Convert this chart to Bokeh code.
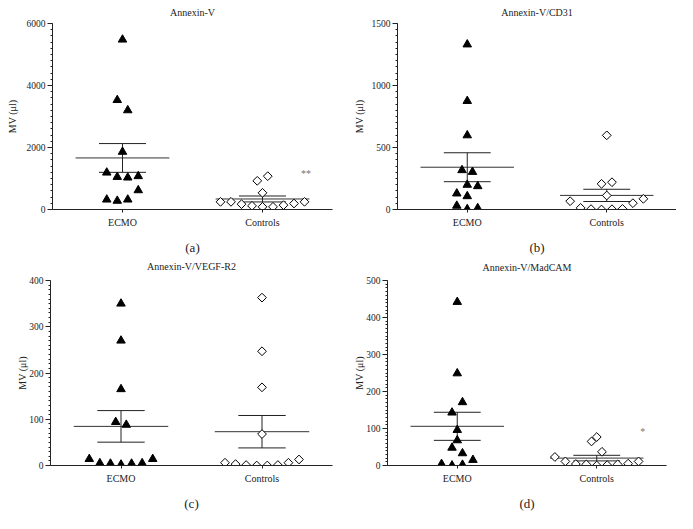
import numpy as np
from bokeh.plotting import figure
from bokeh.models import Range1d, FixedTicker, Label, LinearAxis
from bokeh.layouts import column, row
from bokeh.embed import file_html
from bokeh.resources import INLINE

FONT = "Liberation Serif"

groups = ["ECMO", "Controls"]
titles = ["Annexin-V", "Annexin-V/CD31", "Annexin-V/VEGF-R2", "Annexin-V/MadCAM"]
tags = ["(a)", "(b)", "(c)", "(d)"]
y_label = "MV (μl)"
y_max = [6000, 1500, 400, 500]
y_step = [2000, 500, 100, 100]
y_minor = [200, 50, 10, 10]

# values (MV per µl)
a_ecmo = [5480, 3530, 3200, 1860, 1190, 1050, 1030, 1075, 620, 320, 280, 320]
a_ctrl = [1075, 925, 538, 247, 247, 172, 118, 86, 86, 140, 194, 247]
b_ecmo = [1331, 875, 598, 317, 303, 199, 188, 129, 107, 30, 3, 11]
b_ctrl = [598, 207, 220, 113, 67, 51, 86, 13, 3, 0, 2, 5]
c_ecmo = [350, 270, 165, 94, 88, 14, 5, 4, 2, 4, 5, 14]
c_ctrl = [363, 247, 169, 68, 6, 3, 1, 0, 0, 1, 6, 13]
d_ecmo = [442, 249, 171, 143, 96, 68, 48, 33, 15, 4, 0, 2]
d_ctrl = [77, 65, 37, 23, 11, 4, 3, 0, 1, 3, 5, 11]

# scatter arrangement (side-by-side slots) as in the picture
a_ecmo_slot = [0, -1, 1, 0, -3, -1, 1, 3, 3, -3, -1, 1]
a_ctrl_slot = [1, -1, 0, -8, -6, -4, -2, 0, 2, 4, 6, 8]
b_ecmo_slot = [0, 0, 0, -1, 1, 0, 2, -2, 0, -2, 0, 2]
b_ctrl_slot = [0, -1, 1, 0, -7, 5, 7, -5, -3, -1, 1, 3]
c_ecmo_slot = [0, 0, 0, -1, 1, -6, -4, -2, 0, 2, 4, 6]
c_ctrl_slot = [0, 0, 0, 0, -7, -5, -3, -1, 1, 3, 5, 7]
d_ecmo_slot = [0, 0, 1, -1, 0, 0, -1, 1, 3, -3, -1, 1]
d_ctrl_slot = [0, -1, 1, -8, -6, -4, -2, 0, 2, 4, 6, 8]

significance = ["**", "", "", "*"]

SLOT = 0.0375
CENTERS = [0.5, 1.5]
INK = "#222222"


def make_panel(i, ecmo, ecmo_slot, ctrl, ctrl_slot, h, bl, br, bt, bb,
               title_standoff, ylab_standoff, star_pos=None):
    p = figure(width=338, height=h, output_backend="svg", toolbar_location=None,
               x_range=Range1d(0, 2), y_range=Range1d(0, y_max[i]),
               min_border_left=bl, min_border_right=br, min_border_top=bt,
               min_border_bottom=bb, title=None)
    p.outline_line_color = None
    p.grid.visible = False
    p.background_fill_color = "white"
    p.border_fill_color = "white"

    bx = p.below[0]
    ly = p.left[0]

    # y axis
    yt = [float(v) for v in np.arange(0, y_max[i] + 1, y_step[i])]
    ym = [float(v) for v in np.arange(0, y_max[i] + 1, y_minor[i])]
    ly.ticker = FixedTicker(ticks=yt, minor_ticks=ym)
    ly.major_tick_out = 5
    ly.major_tick_in = 0
    ly.minor_tick_out = 2
    ly.minor_tick_in = 0
    ly.minor_tick_line_width = 1
    ly.major_label_standoff = 2
    ly.axis_label = y_label
    ly.axis_label_text_font = FONT
    ly.axis_label_text_font_size = "10px"
    ly.axis_label_text_font_style = "normal"
    ly.axis_label_standoff = ylab_standoff
    ly.major_label_text_font_size = "9.5px"

    # x axis (groups)
    bx.ticker = FixedTicker(ticks=CENTERS, minor_ticks=[])
    bx.major_label_overrides = {CENTERS[0]: groups[0], CENTERS[1]: groups[1]}
    bx.major_tick_out = 3
    bx.major_tick_in = 0
    bx.minor_tick_out = 0
    bx.major_label_standoff = 4
    bx.axis_label = tags[i]
    bx.axis_label_text_font = FONT
    bx.axis_label_text_font_size = "13px"
    bx.axis_label_text_font_style = "normal"
    bx.axis_label_standoff = 9
    bx.major_label_text_font_size = "10px"

    for ax in (bx, ly):
        ax.major_label_text_font = FONT
        ax.major_label_text_color = INK
        ax.axis_line_color = INK
        ax.major_tick_line_color = INK
        ax.minor_tick_line_color = INK
        ax.axis_label_text_color = INK

    # panel title as the label of an empty axis above the frame
    top = LinearAxis(ticker=FixedTicker(ticks=[], minor_ticks=[]), axis_label=titles[i],
                     axis_line_color=None, major_tick_line_color=None,
                     minor_tick_line_color=None, major_tick_out=0, minor_tick_out=0,
                     major_label_standoff=0, axis_label_standoff=title_standoff,
                     axis_label_text_font=FONT, axis_label_text_font_size="10px",
                     axis_label_text_font_style="normal", axis_label_text_color=INK)
    p.add_layout(top, "above")

    # mean +/- SEM
    for c, vals in zip(CENTERS, (ecmo, ctrl)):
        v = np.array(vals, dtype=float)
        m = v.mean()
        sem = v.std(ddof=1) / np.sqrt(len(v))
        p.segment(x0=[c - 0.335], x1=[c + 0.335], y0=[m], y1=[m], line_color="#333333", line_width=1)
        p.segment(x0=[c - 0.168, c - 0.168], x1=[c + 0.168, c + 0.168],
                  y0=[m - sem, m + sem], y1=[m - sem, m + sem], line_color=INK, line_width=1)
        p.segment(x0=[c], x1=[c], y0=[m - sem], y1=[m + sem], line_color=INK, line_width=1)

    ex = [CENTERS[0] + s * SLOT for s in ecmo_slot]
    cx = [CENTERS[1] + s * SLOT for s in ctrl_slot]
    p.scatter(ex, ecmo, marker="triangle", size=8.5, fill_color="black", line_color="black")
    p.scatter(cx, ctrl, marker="square", size=6.2, angle=np.pi / 4, fill_color="white",
              line_color="black", line_width=1)

    if significance[i] and star_pos is not None:
        p.add_layout(Label(x=star_pos[0], y=star_pos[1], text=significance[i],
                           text_font=FONT, text_font_size="10px", text_color="#777777",
                           text_align="center", text_baseline="middle"))
    return p


pa = make_panel(0, a_ecmo, a_ecmo_slot, a_ctrl, a_ctrl_slot, 257, 52, 6, 23, 48, 6, 6, (1.81, 1160))
pb = make_panel(1, b_ecmo, b_ecmo_slot, b_ctrl, b_ctrl_slot, 257, 59, 0, 22, 48, 6, 4)
pc = make_panel(2, c_ecmo, c_ecmo_slot, c_ctrl, c_ctrl_slot, 263, 50, 6, 23, 55, 9, -2)
pd = make_panel(3, d_ecmo, d_ecmo_slot, d_ctrl, d_ctrl_slot, 263, 49, 10, 23, 55, 8, -2, (1.83, 92))

layout = column(row(pa, pb), row(pc, pd))
open("out.html", "w").write(file_html(layout, INLINE))
